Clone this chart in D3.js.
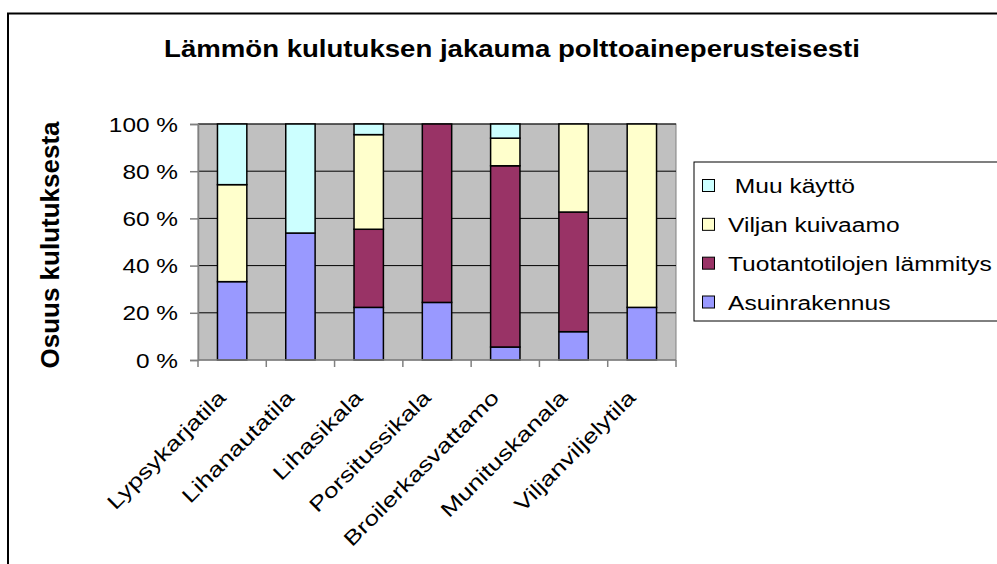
<!DOCTYPE html>
<html>
<head>
<meta charset="utf-8">
<script src="https://cdn.jsdelivr.net/npm/d3@7"></script>
<style>
  body { margin: 0; background: #fff; }
  text { font-family: "Liberation Sans", Arial, sans-serif; }
</style>
</head>
<body>
<svg id="chart" width="997" height="564"></svg>
<script>
// data (percent of consumption)
let categories = ['Lypsykarjatila', 'Lihanautatila', 'Lihasikala', 'Porsitussikala',
  'Broilerkasvattamo', 'Munituskanala', 'Viljanviljelytila'];
let asuinrakennus = [33.2, 53.8, 22.3, 24.4, 5.5, 12.0, 22.3];
let tuotantotilat = [0, 0, 33.1, 75.6, 76.8, 50.7, 0];
let viljanKuivaamo = [41.1, 0, 40.1, 0, 11.7, 37.3, 77.7];
let muuKaytto = [25.7, 46.2, 4.5, 0, 6.0, 0, 0];
let yTicks = [0, 20, 40, 60, 80, 100];

let seriesNames = ['Asuinrakennus', 'Tuotantotilojen lämmitys', 'Viljan kuivaamo', 'Muu käyttö'];
let seriesColors = ['#9999ff', '#993366', '#ffffcc', '#ccffff'];

let svg = d3.select('#chart');

// outer chart border
svg.append('rect')
.attr('x', 8).attr('y', 13.5)
.attr('width', 1100).attr('height', 700)
.attr('fill', 'none')
.attr('stroke', '#000')
.attr('stroke-width', 2);

let plot = {left: 198, right: 676, top: 124, bottom: 360};

let sx = d3.scaleBand()
.domain(categories)
.range([plot.left, plot.right])
.paddingInner(0.57)
.paddingOuter(0.285);

let sy = d3.scaleLinear()
.domain([0, 100])
.range([plot.bottom, plot.top]);

// plot background
svg.append('rect')
.attr('x', plot.left).attr('y', plot.top)
.attr('width', plot.right - plot.left).attr('height', plot.bottom - plot.top)
.attr('fill', '#c0c0c0')
.attr('stroke', '#808080')
.attr('stroke-width', 1);

// gridlines
svg.selectAll('.grid')
.data(yTicks.slice(1))
.enter()
.append('line')
.attr('class', 'grid')
.attr('x1', plot.left).attr('x2', plot.right)
.attr('y1', d => sy(d)).attr('y2', d => sy(d))
.attr('stroke', '#000')
.attr('stroke-width', 1);

// stacked bars
let rows = categories.map((c, i) => ({
  cat: c,
  Asuinrakennus: asuinrakennus[i],
  'Tuotantotilojen lämmitys': tuotantotilat[i],
  'Viljan kuivaamo': viljanKuivaamo[i],
  'Muu käyttö': muuKaytto[i]
}));
let stacked = d3.stack().keys(seriesNames)(rows);

svg.selectAll('.layer')
.data(stacked)
.enter()
.append('g')
.attr('class', 'layer')
.attr('fill', (_, i) => seriesColors[i])
.selectAll('rect')
.data(d => d.filter(p => p[1] - p[0] > 0))
.enter()
.append('rect')
.attr('x', d => sx(d.data.cat))
.attr('width', sx.bandwidth())
.attr('y', d => sy(d[1]))
.attr('height', d => sy(d[0]) - sy(d[1]))
.attr('stroke', '#000')
.attr('stroke-width', 1.5);

// y axis
let yAxis = d3.axisLeft(sy)
.tickValues(yTicks)
.tickSize(8)
.tickFormat(d => d + ' %');
let gy = svg.append('g')
.attr('transform', `translate(${plot.left},0)`)
.call(yAxis);
gy.select('.domain').attr('stroke', '#808080').attr('stroke-width', 1.5);
gy.selectAll('.tick line').attr('stroke', '#808080').attr('stroke-width', 1.5);
gy.selectAll('text')
.attr('x', 0)
.attr('dy', '0.35em')
.attr('transform', 'translate(-20,0) scale(1.22,1)')
.attr('font-size', 20)
.attr('fill', '#000')
.attr('font-family', '"Liberation Sans", Arial, sans-serif');

// x axis: ticks between categories
let step = sx.step();
svg.append('line')
.attr('x1', plot.left).attr('x2', plot.right)
.attr('y1', plot.bottom).attr('y2', plot.bottom)
.attr('stroke', '#808080').attr('stroke-width', 1.5);
svg.selectAll('.xtick')
.data(d3.range(categories.length + 1))
.enter()
.append('line')
.attr('class', 'xtick')
.attr('x1', i => plot.left + i * step).attr('x2', i => plot.left + i * step)
.attr('y1', plot.bottom).attr('y2', plot.bottom + 7)
.attr('stroke', '#808080').attr('stroke-width', 1.5);

// category labels
svg.selectAll('.xlabel')
.data(categories)
.enter()
.append('text')
.attr('class', 'xlabel')
.attr('text-anchor', 'end')
.attr('font-size', 20.5)
.attr('transform', d => `translate(${sx(d) + sx.bandwidth() / 2 - 5},${plot.bottom + 39}) rotate(-45) scale(1.28,1)`)
.text(d => d);

// title
svg.append('text')
.attr('transform', 'translate(512,57) scale(1.2,1)')
.attr('text-anchor', 'middle')
.attr('font-size', 23)
.attr('font-weight', 'bold')
.text('Lämmön kulutuksen jakauma polttoaineperusteisesti');

// y axis title
svg.append('text')
.attr('transform', 'translate(59,245) rotate(-90)')
.attr('text-anchor', 'middle')
.attr('font-size', 26)
.attr('font-weight', 'bold')
.text('Osuus kulutuksesta');

// legend
let legend = svg.append('g');
legend.append('rect')
.attr('x', 694).attr('y', 162)
.attr('width', 400).attr('height', 159)
.attr('fill', '#fff')
.attr('stroke', '#000')
.attr('stroke-width', 1);

let legendItems = seriesNames.slice().reverse();
let legendLabels = [' Muu käyttö', 'Viljan kuivaamo', 'Tuotantotilojen lämmitys', 'Asuinrakennus'];
let ly = d3.scalePoint().domain(legendItems).range([193, 309.5]);

legend.selectAll('.lsw')
.data(legendItems)
.enter()
.append('rect')
.attr('class', 'lsw')
.attr('x', 702.5).attr('y', d => ly(d) - 13.5)
.attr('width', 12).attr('height', 12)
.attr('fill', d => seriesColors[seriesNames.indexOf(d)])
.attr('stroke', '#000')
.attr('stroke-width', 1);

legend.selectAll('.ltx')
.data(legendItems)
.enter()
.append('text')
.attr('class', 'ltx')
.attr('transform', d => `translate(728,${ly(d)}) scale(1.17,1)`)
.attr('font-size', 21)
.attr('xml:space', 'preserve')
.style('white-space', 'pre')
.text((d, i) => legendLabels[i]);
</script>
</body>
</html>
